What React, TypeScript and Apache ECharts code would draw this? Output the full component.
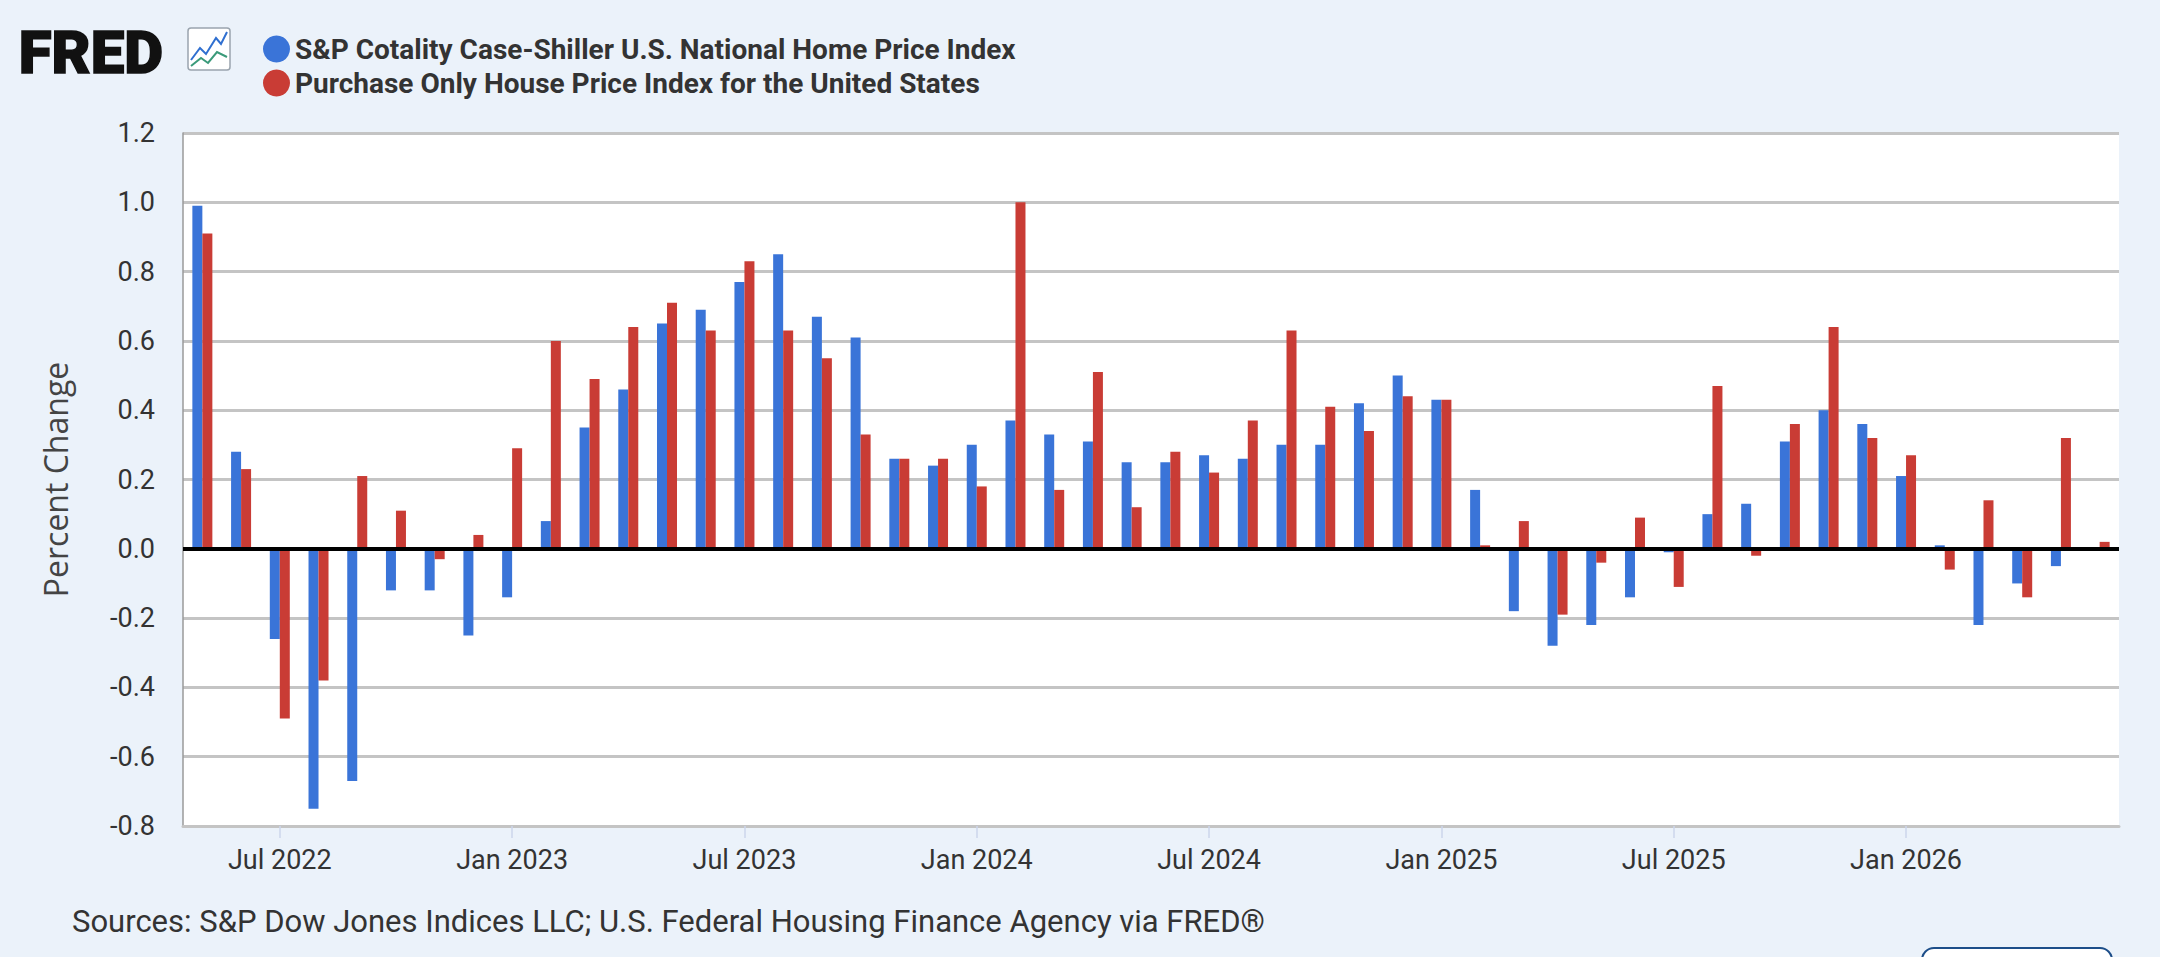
import { useEffect, useRef } from "react";
import * as echarts from "echarts";

const months = [
  "May 2022", "Jun 2022", "Jul 2022", "Aug 2022", "Sep 2022", "Oct 2022", "Nov 2022", "Dec 2022",
  "Jan 2023", "Feb 2023", "Mar 2023", "Apr 2023", "May 2023", "Jun 2023", "Jul 2023", "Aug 2023",
  "Sep 2023", "Oct 2023", "Nov 2023", "Dec 2023", "Jan 2024", "Feb 2024", "Mar 2024", "Apr 2024",
  "May 2024", "Jun 2024", "Jul 2024", "Aug 2024", "Sep 2024", "Oct 2024", "Nov 2024", "Dec 2024",
  "Jan 2025", "Feb 2025", "Mar 2025", "Apr 2025", "May 2025", "Jun 2025", "Jul 2025", "Aug 2025",
  "Sep 2025", "Oct 2025", "Nov 2025", "Dec 2025", "Jan 2026", "Feb 2026", "Mar 2026", "Apr 2026",
  "May 2026", "Jun 2026",
];

const caseShiller = [
  0.99, 0.28, -0.26, -0.75, -0.67, -0.12, -0.12, -0.25,
  -0.14, 0.08, 0.35, 0.46, 0.65, 0.69, 0.77, 0.85,
  0.67, 0.61, 0.26, 0.24, 0.3, 0.37, 0.33, 0.31,
  0.25, 0.25, 0.27, 0.26, 0.3, 0.3, 0.42, 0.5,
  0.43, 0.17, -0.18, -0.28, -0.22, -0.14, -0.01, 0.1,
  0.13, 0.31, 0.4, 0.36, 0.21, 0.01, -0.22, -0.1,
  -0.05, null,
];

const purchaseOnly = [
  0.91, 0.23, -0.49, -0.38, 0.21, 0.11, -0.03, 0.04,
  0.29, 0.6, 0.49, 0.64, 0.71, 0.63, 0.83, 0.63,
  0.55, 0.33, 0.26, 0.26, 0.18, 1.0, 0.17, 0.51,
  0.12, 0.28, 0.22, 0.37, 0.63, 0.41, 0.34, 0.44,
  0.43, 0.01, 0.08, -0.19, -0.04, 0.09, -0.11, 0.47,
  -0.02, 0.36, 0.64, 0.32, 0.27, -0.06, 0.14, -0.14,
  0.32, 0.02,
];

const seriesNames = [
  "S&P Cotality Case-Shiller U.S. National Home Price Index",
  "Purchase Only House Price Index for the United States",
];

const BLUE = "#3a74d8";
const RED = "#c93c35";
const labelFont = "'Roboto', sans-serif";

const showTick = (_i: number, v: string) => v.startsWith("Jul") || v.startsWith("Jan");

export default function App() {
  const ref = useRef<HTMLDivElement>(null);

  useEffect(() => {
    if (!ref.current) return;
    const chart = echarts.init(ref.current, undefined, { renderer: "svg" });
    chart.setOption({
      animation: false,
      backgroundColor: "#ebf2fa",
      grid: {
        left: 183, right: 41, top: 133, bottom: 131,
        show: true, backgroundColor: "#ffffff", borderWidth: 0,
      },
      legend: {
        orient: "vertical",
        left: 258,
        top: 30,
        icon: "circle",
        itemWidth: 27,
        itemHeight: 27,
        itemGap: 6,
        textStyle: { fontFamily: labelFont, fontWeight: "bold", fontSize: 28, color: "#333333" },
        data: seriesNames,
      },
      graphic: [
        {
          type: "text", left: 18, top: 22,
          style: { text: "FRED", fontFamily: "'Roboto', sans-serif", fontWeight: 900, fontSize: 60, fill: "#111111", stroke: "#111111", lineWidth: 1.5 },
        },
        { type: "rect", shape: { x: 188, y: 28, width: 42, height: 42, r: 3 }, style: { fill: "#ffffff", stroke: "#9aa4ae", lineWidth: 1.5 } },
        { type: "polyline", shape: { points: [[191, 60], [200, 48], [206, 54], [216, 38], [221, 44], [227, 32]] }, style: { stroke: "#2f6fd0", lineWidth: 2, fill: "none" } },
        { type: "polyline", shape: { points: [[191, 66], [201, 58], [208, 63], [217, 52], [227, 57]] }, style: { stroke: "#3a9a7a", lineWidth: 2, fill: "none" } },
        {
          type: "text", left: 72, top: 906,
          style: { text: "Sources: S&P Dow Jones Indices LLC; U.S. Federal Housing Finance Agency via FRED®", fontFamily: labelFont, fontSize: 31, fill: "#333333" },
        },
        { type: "rect", shape: { x: 1922, y: 948, width: 190, height: 30, r: 12 }, style: { fill: "#ffffff", stroke: "#1d4e89", lineWidth: 2 } },
      ],
      xAxis: {
        type: "category",
        data: months,
        boundaryGap: true,
        axisLine: { show: true, onZero: false, lineStyle: { color: "#c4c4c4", width: 3 } },
        axisTick: { show: true, alignWithLabel: true, interval: showTick, length: 12, lineStyle: { color: "#ccd6eb", width: 1.5 } },
        axisLabel: {
          interval: showTick, margin: 20,
          fontFamily: labelFont, fontSize: 27, color: "#333333",
        },
        splitLine: { show: false },
      },
      yAxis: {
        type: "value",
        name: "Percent Change",
        nameLocation: "middle",
        nameGap: 112,
        nameTextStyle: { fontFamily: "'Open Sans', sans-serif", fontSize: 32, color: "#444444" },
        min: -0.8, max: 1.2, interval: 0.2,
        axisLine: { show: true, lineStyle: { color: "#9a9a9a", width: 1.5 } },
        axisTick: { show: false },
        axisLabel: {
          formatter: (v: number) => v.toFixed(1),
          margin: 28,
          fontFamily: labelFont, fontSize: 27, color: "#333333",
        },
        splitLine: { show: true, lineStyle: { color: "#c4c4c4", width: 3 } },
      },
      series: [
        {
          name: seriesNames[0], type: "bar", data: caseShiller,
          barWidth: 10, barGap: "0%", itemStyle: { color: BLUE },
          markLine: {
            silent: true, symbol: "none", label: { show: false },
            lineStyle: { color: "#000000", width: 4, type: "solid" },
            data: [{ yAxis: 0 }],
          },
        },
        {
          name: seriesNames[1], type: "bar", data: purchaseOnly,
          barWidth: 10, barGap: "0%", itemStyle: { color: RED },
        },
      ],
    });
    return () => chart.dispose();
  }, []);

  return (
    <div style={{ position: "fixed", left: 0, top: 0, width: 2160, height: 957 }}>
      <div ref={ref} style={{ width: 2160, height: 957 }} />
    </div>
  );
}
